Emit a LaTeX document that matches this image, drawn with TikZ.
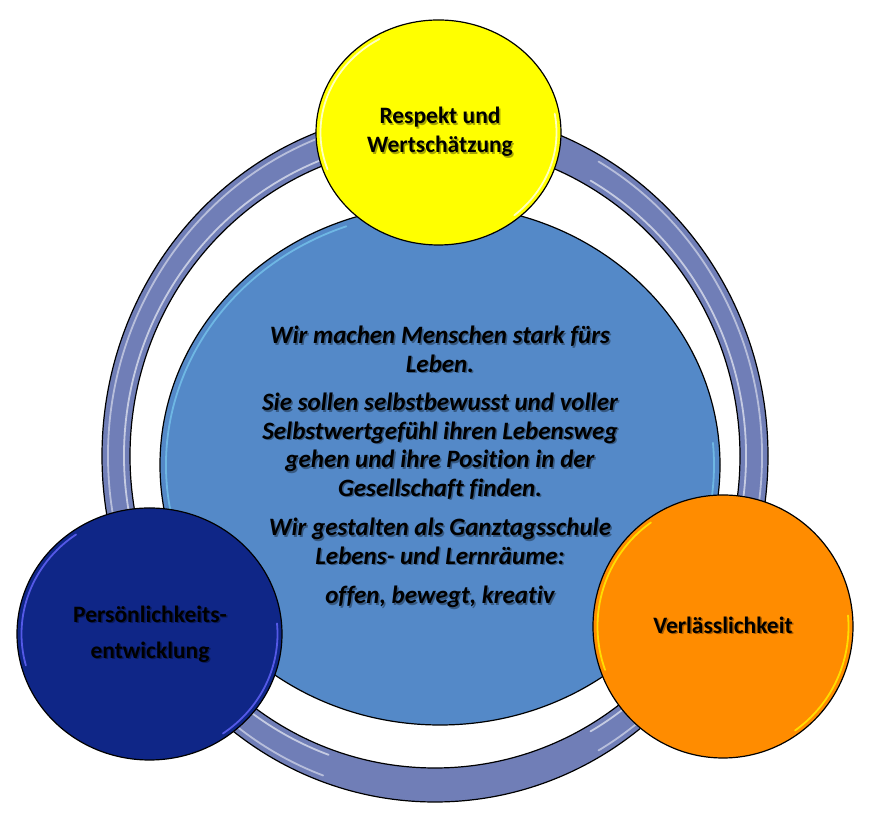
\documentclass[tikz,border=0pt]{standalone}
\usepackage{fontspec}
\setmainfont{Carlito}[Ligatures=NoCommon]
\definecolor{ringc}{RGB}{112,126,183}
\definecolor{midblue}{RGB}{84,137,200}
\definecolor{darkb}{RGB}{15,38,135}
\definecolor{orangec}{RGB}{255,140,0}
\definecolor{yellowc}{RGB}{255,255,0}
\tikzset{
  outline/.style={draw=black, line width=1.2pt},
  gloss/.style={draw=white, line width=1.8pt, draw opacity=0.75, line cap=round},
  midtext/.style={font=\fontsize{25}{28.5}\selectfont\bfseries\itshape, align=center, text=black},
  sattext/.style={font=\fontsize{23.5}{29}\selectfont\bfseries, align=center, text=black},
  shad/.style={text=black, text opacity=0.35},
}
\begin{document}
\begin{tikzpicture}[x=1pt,y=1pt]
\useasboundingbox (0,0) rectangle (871,816);
% ring
\coordinate (rc) at (435,360);
\fill[ringc, even odd rule] (rc) ellipse[x radius=333pt,y radius=346pt] (rc) ellipse[x radius=305pt,y radius=312pt];
\draw[gloss, draw opacity=0.5] ([shift={(95:327pt and 340pt)}]rc) arc[start angle=95,end angle=250,x radius=327pt,y radius=340pt];
\draw[gloss, draw opacity=0.6] ([shift={(95:311pt and 318pt)}]rc) arc[start angle=95,end angle=250,x radius=311pt,y radius=318pt];
\draw[gloss, draw opacity=0.5] ([shift={(-60:327pt and 340pt)}]rc) arc[start angle=-60,end angle=60,x radius=327pt,y radius=340pt];
\draw[gloss, draw opacity=0.6] ([shift={(-60:311pt and 318pt)}]rc) arc[start angle=-60,end angle=60,x radius=311pt,y radius=318pt];
\draw[outline] (rc) ellipse[x radius=333pt,y radius=346pt];
\draw[outline] (rc) ellipse[x radius=305pt,y radius=312pt];
% centre
\coordinate (cc) at (440,351);
\filldraw[fill=midblue, outline] (cc) ellipse[x radius=280pt,y radius=260pt];
\draw[gloss, draw=white!50!cyan, draw opacity=0.6] ([shift={(110:274pt and 254pt)}]cc) arc[start angle=110,end angle=195,x radius=274pt,y radius=254pt];
\draw[gloss, draw=white!50!cyan, draw opacity=0.6] ([shift={(-35:274pt and 254pt)}]cc) arc[start angle=-35,end angle=5,x radius=274pt,y radius=254pt];
\node[midtext, shad] (midsh) at (441.5,347.5) {Wir machen Menschen stark fürs\\ Leben.\\[10pt] Sie sollen selbstbewusst und voller\\ Selbstwertgefühl ihren Lebensweg\\ gehen und ihre Position in der\\ Gesellschaft finden.\\[11pt] Wir gestalten als Ganztagsschule\\ Lebens- und Lernräume:\\[11pt] offen, bewegt, kreativ};
\node[midtext] (mid) at (440,349) {Wir machen Menschen stark fürs\\ Leben.\\[10pt] Sie sollen selbstbewusst und voller\\ Selbstwertgefühl ihren Lebensweg\\ gehen und ihre Position in der\\ Gesellschaft finden.\\[11pt] Wir gestalten als Ganztagsschule\\ Lebens- und Lernräume:\\[11pt] offen, bewegt, kreativ};
% yellow
\coordinate (yc) at (438.5,683.5);
\filldraw[fill=yellowc, outline] (yc) ellipse[x radius=122.5pt,y radius=112.5pt];
\draw[gloss] ([shift={(120:118pt and 108pt)}]yc) arc[start angle=120,end angle=200,x radius=118pt,y radius=108pt];
\draw[gloss] ([shift={(-50:118pt and 108pt)}]yc) arc[start angle=-50,end angle=10,x radius=118pt,y radius=108pt];
\node[sattext, shad] (respsh) at (441.5,682.5) {Respekt und\\ Wertschätzung};
\node[sattext] (resp) at (440,684) {Respekt und\\ Wertschätzung};
% dark blue
\coordinate (dc) at (149.5,182);
\filldraw[fill=darkb, outline] (dc) ellipse[x radius=132.5pt,y radius=126pt];
\draw[gloss, draw=white!40!blue, draw opacity=0.8] ([shift={(125:128pt and 121.5pt)}]dc) arc[start angle=125,end angle=195,x radius=128pt,y radius=121.5pt];
\draw[gloss, draw=white!40!blue, draw opacity=0.8] ([shift={(-55:128pt and 121.5pt)}]dc) arc[start angle=-55,end angle=5,x radius=128pt,y radius=121.5pt];
\node[sattext, shad, font=\fontsize{23.5}{36}\selectfont\bfseries] (perssh) at (151.5,180.5) {Persönlichkeits-\\ entwicklung};
\node[sattext, font=\fontsize{23.5}{36}\selectfont\bfseries] (pers) at (150,182) {Persönlichkeits-\\ entwicklung};
% orange
\coordinate (oc) at (723,189.5);
\filldraw[fill=orangec, outline] (oc) ellipse[x radius=130pt,y radius=131.5pt];
\draw[gloss, draw=yellow, draw opacity=0.8] ([shift={(125:125.5pt and 127pt)}]oc) arc[start angle=125,end angle=200,x radius=125.5pt,y radius=127pt];
\draw[gloss, draw=yellow, draw opacity=0.8] ([shift={(-55:125.5pt and 127pt)}]oc) arc[start angle=-55,end angle=5,x radius=125.5pt,y radius=127pt];
\node[sattext, shad] (verlsh) at (724.5,189.5) {Verlässlichkeit};
\node[sattext] (verl) at (723,191) {Verlässlichkeit};
\end{tikzpicture}
\end{document}
